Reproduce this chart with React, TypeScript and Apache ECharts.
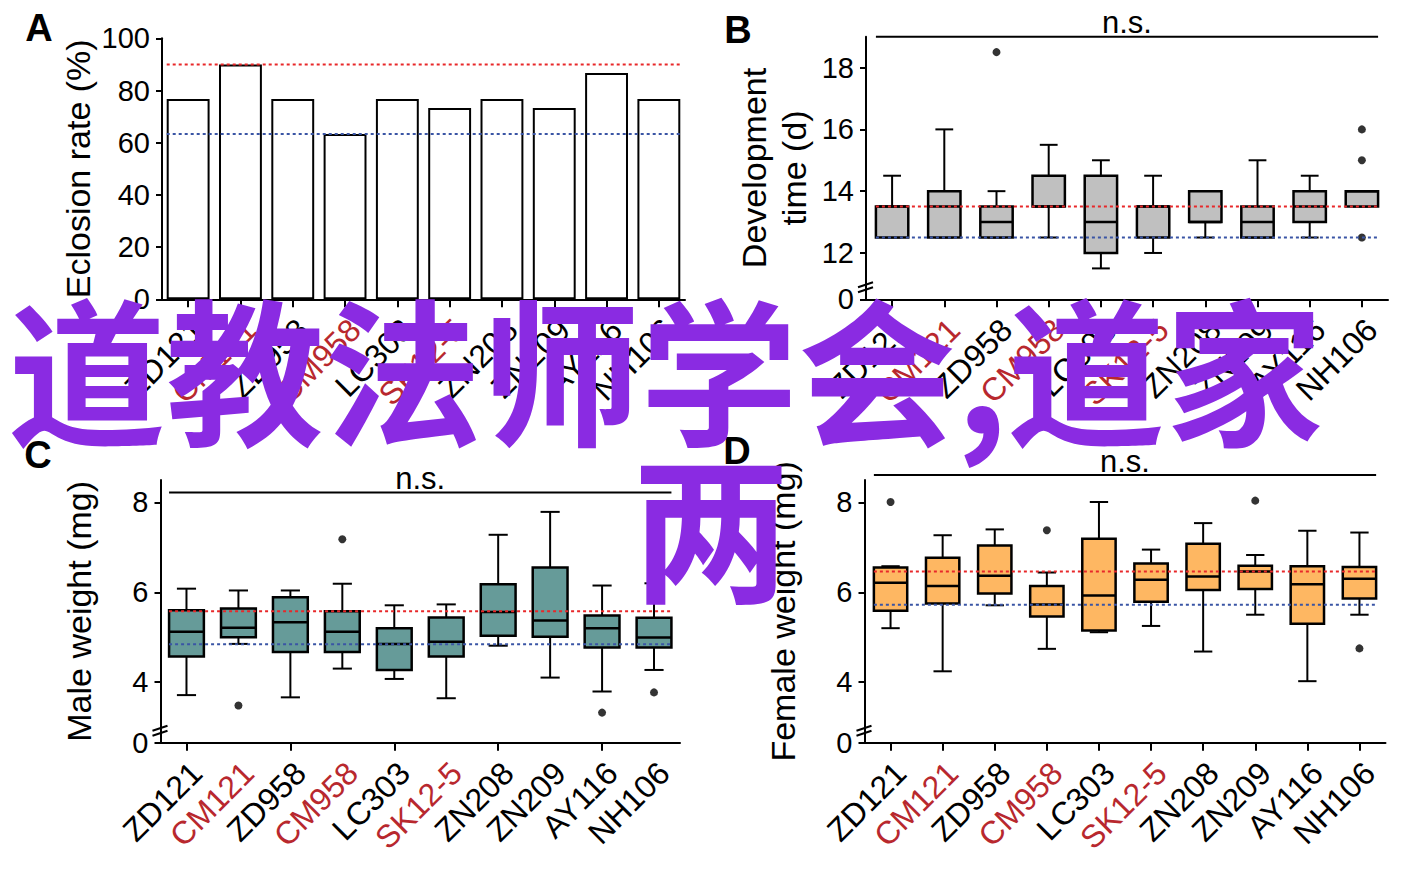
import React, { useEffect, useRef } from 'react';
import * as echarts from 'echarts';

// ---------- data ----------
const categories = ['ZD121', 'CM121', 'ZD958', 'CM958', 'LC303', 'SK12-5', 'ZN208', 'ZN209', 'AY116', 'NH106'];
const redCategories = ['CM121', 'CM958', 'SK12-5'];

// A: eclosion rate (%)
const eclosionRate = [76.7, 90, 76.7, 63.3, 76.7, 73.3, 76.7, 73.3, 86.7, 76.7];
const eclosionRefs = [90, 63.3];
const eclosionTickValues = [0, 20, 40, 60, 80, 100];
const eclosionTickLabels = ['0', '20', '40', '60', '80', '100'];

// B: development time (d) — [min, q1, median, q3, max]
const devStats = [
  [12.5, 12.5, 13.5, 13.5, 14.5],
  [12.5, 12.5, 13.5, 14, 16],
  [12.5, 12.5, 13, 13.5, 14],
  [12.5, 13.5, 13.5, 14.5, 15.5],
  [11.5, 12, 13, 14.5, 15],
  [12, 12.5, 13.5, 13.5, 14.5],
  [12.5, 13, 13, 14, 14],
  [12.5, 12.5, 13, 13.5, 15],
  [12.5, 13, 13.5, 14, 14.5],
  [13.5, 13.5, 14, 14, 14],
];
const devOutlierCats = ['ZD958', 'NH106', 'NH106', 'NH106'];
const devOutlierVals = [18.5, 16, 15, 12.5];
const devRefs = [13.5, 12.5];
const devNsLevel = 19;
const devTickValues = [10.5, 12, 14, 16, 18];
const devTickLabels = ['0', '12', '14', '16', '18'];

// C: male weight (mg)
const maleStats = [
  [3.71, 4.57, 5.12, 5.6, 6.08],
  [4.85, 5.0, 5.21, 5.64, 6.04],
  [3.66, 4.67, 5.33, 5.89, 6.04],
  [4.3, 4.67, 5.12, 5.58, 6.19],
  [4.07, 4.27, 4.85, 5.2, 5.71],
  [3.64, 4.57, 4.9, 5.44, 5.73],
  [4.81, 5.03, 5.56, 6.18, 7.28],
  [4.1, 5.01, 5.37, 6.55, 7.79],
  [3.79, 4.77, 5.2, 5.48, 6.15],
  [4.27, 4.77, 4.99, 5.43, 6.2],
];
const maleOutlierCats = ['CM121', 'CM958', 'AY116', 'NH106'];
const maleOutlierVals = [3.48, 7.18, 3.32, 3.77];
const maleRefs = [5.58, 4.84];
const maleNsLevel = 8.22;

// D: female weight (mg)
const femaleStats = [
  [5.2, 5.59, 6.21, 6.55, 6.58],
  [4.24, 5.75, 6.14, 6.77, 7.27],
  [5.71, 5.97, 6.37, 7.04, 7.4],
  [4.74, 5.46, 5.73, 6.14, 6.44],
  [5.11, 5.15, 5.93, 7.19, 8.01],
  [5.25, 5.79, 6.28, 6.64, 6.95],
  [4.68, 6.05, 6.35, 7.08, 7.54],
  [5.5, 6.07, 6.46, 6.59, 6.83],
  [4.02, 5.3, 6.18, 6.58, 7.37],
  [5.5, 5.86, 6.3, 6.56, 7.33],
];
const femaleOutlierCats = ['ZD121', 'CM958', 'ZN209', 'NH106'];
const femaleOutlierVals = [8.01, 7.38, 8.04, 4.75];
const femaleRefs = [6.46, 5.72];
const femaleNsLevel = 8.61;
const weightTickValues = [2.65, 4, 6, 8];
const weightTickLabels = ['0', '4', '6', '8'];

const watermarkLine1 = '道教法师学会,道家';
const watermarkLine2 = '两';

// ---------- styles ----------
const FONT = '"Liberation Sans", Arial, Helvetica, sans-serif';
const RED = '#e8282a';
const BLUE = '#3a55a5';
const LABEL_RED = '#b8282e';

function xAxisFor(gridIndex: number) {
  return {
    type: 'category',
    gridIndex,
    data: categories,
    boundaryGap: true,
    axisLine: { show: true, lineStyle: { color: '#000', width: 2 } },
    axisTick: { show: true, alignWithLabel: true, length: 8, lineStyle: { color: '#000', width: 2 } },
    axisLabel: { show: false },
    splitLine: { show: false },
  };
}

function yAxisFor(
  gridIndex: number,
  min: number,
  max: number,
  tickValues: number[],
  tickLabels: string[],
  name: string,
  nameGap: number,
  lineHeight = 40
) {
  return {
    type: 'value',
    gridIndex,
    min,
    max,
    name,
    nameLocation: 'middle',
    nameRotate: 90,
    nameGap,
    nameTextStyle: { fontSize: 34, fontFamily: FONT, color: '#000', lineHeight },
    axisLine: { show: true, lineStyle: { color: '#000', width: 2 } },
    axisTick: { show: true, length: 6, customValues: tickValues, lineStyle: { color: '#000', width: 2 } },
    axisLabel: {
      customValues: tickValues,
      fontSize: 29,
      fontFamily: FONT,
      color: '#000',
      margin: 12,
      formatter: (v: number) => {
        const i = tickValues.findIndex((t) => Math.abs(t - v) < 1e-6);
        return i >= 0 ? tickLabels[i] : '';
      },
    },
    splitLine: { show: false },
  };
}

// rotated category labels, anchored at each category's tick
function categoryLabelSeries(idx: number, axisMin: number) {
  return {
    type: 'custom',
    xAxisIndex: idx,
    yAxisIndex: idx,
    z: 7,
    silent: true,
    encode: { x: 0, y: 1 },
    data: categories.map((c, i) => [i, axisMin]),
    renderItem: (params: any, api: any) => {
      const p = api.coord([api.value(0), api.value(1)]);
      const name = categories[params.dataIndex];
      return {
        type: 'text',
        x: p[0] + 10,
        y: p[1] + 25,
        rotation: Math.PI / 4,
        style: {
          text: name,
          fontSize: 32,
          fontFamily: FONT,
          fill: redCategories.includes(name) ? LABEL_RED : '#000',
          align: 'right',
          verticalAlign: 'middle',
        },
      };
    },
  };
}

function boxSeries(idx: number, stats: number[][], fill: string, ratio: number) {
  return {
    type: 'custom',
    xAxisIndex: idx,
    yAxisIndex: idx,
    z: 3,
    encode: { x: 0, y: [1, 2, 3, 4, 5] },
    data: stats.map((s, i) => [i, ...s]),
    renderItem: (params: any, api: any) => {
      const i = api.value(0);
      const lo = api.coord([i, api.value(1)]);
      const q1 = api.coord([i, api.value(2)]);
      const md = api.coord([i, api.value(3)]);
      const q3 = api.coord([i, api.value(4)]);
      const hi = api.coord([i, api.value(5)]);
      const bw = api.size([1, 0])[0] * ratio;
      const cw = bw * 0.55;
      const x = lo[0];
      const ln = (x1: number, y1: number, x2: number, y2: number, w: number) => ({
        type: 'line',
        shape: { x1, y1, x2, y2 },
        style: { stroke: '#000', lineWidth: w },
      });
      return {
        type: 'group',
        children: [
          ln(x, hi[1], x, q3[1], 2),
          ln(x - cw / 2, hi[1], x + cw / 2, hi[1], 2),
          ln(x, q1[1], x, lo[1], 2),
          ln(x - cw / 2, lo[1], x + cw / 2, lo[1], 2),
          {
            type: 'rect',
            shape: { x: x - bw / 2, y: q3[1], width: bw, height: q1[1] - q3[1] },
            style: { fill, stroke: '#000', lineWidth: 2.5 },
          },
          ln(x - bw / 2, md[1], x + bw / 2, md[1], 2.5),
        ],
      };
    },
  };
}

function outlierSeries(idx: number, cats: string[], vals: number[]) {
  return {
    type: 'scatter',
    xAxisIndex: idx,
    yAxisIndex: idx,
    z: 4,
    symbol: 'circle',
    symbolSize: 8,
    itemStyle: { color: '#000' },
    data: cats.map((c, k) => [categories.indexOf(c), vals[k]]),
  };
}

function refLineSeries(idx: number, refs: number[], ratio: number) {
  const colors = [RED, BLUE];
  return {
    type: 'custom',
    xAxisIndex: idx,
    yAxisIndex: idx,
    z: 6,
    encode: { x: 0, y: 1 },
    data: refs.map((r, k) => [0, r, k]),
    renderItem: (params: any, api: any) => {
      const v = api.value(1);
      const a = api.coord([0, v]);
      const b = api.coord([categories.length - 1, v]);
      const half = (api.size([1, 0])[0] * ratio) / 2;
      return {
        type: 'line',
        shape: { x1: a[0] - half, y1: a[1], x2: b[0] + half, y2: a[1] },
        style: { stroke: colors[api.value(2)], lineWidth: 2, lineDash: [3, 3] },
      };
    },
  };
}

function annotationSeries(idx: number, nsLevel: number, axisMin: number, ratio: number) {
  return {
    type: 'custom',
    xAxisIndex: idx,
    yAxisIndex: idx,
    z: 6,
    encode: { x: 0, y: 1 },
    data: [[0, nsLevel, axisMin]],
    renderItem: (params: any, api: any) => {
      const v = api.value(1);
      const a = api.coord([0, v]);
      const b = api.coord([categories.length - 1, v]);
      const band = api.size([1, 0])[0];
      const half = (band * ratio) / 2;
      const bottom = api.coord([0, api.value(2)]);
      const ax = bottom[0] - band / 2;
      const by = bottom[1];
      return {
        type: 'group',
        children: [
          {
            type: 'line',
            shape: { x1: a[0] - half, y1: a[1], x2: b[0] + half, y2: a[1] },
            style: { stroke: '#000', lineWidth: 2 },
          },
          {
            type: 'text',
            x: (a[0] + b[0]) / 2,
            y: a[1] - 14,
            style: {
              text: 'n.s.',
              fontSize: 31,
              fontFamily: FONT,
              fill: '#000',
              align: 'center',
              verticalAlign: 'middle',
            },
          },
          {
            type: 'line',
            shape: { x1: ax - 8, y1: by - 12, x2: ax + 7, y2: by - 17 },
            style: { stroke: '#000', lineWidth: 2 },
          },
          {
            type: 'line',
            shape: { x1: ax - 8, y1: by - 7, x2: ax + 7, y2: by - 12 },
            style: { stroke: '#000', lineWidth: 2 },
          },
        ],
      };
    },
  };
}

function panelLetter(text: string, x: number, y: number) {
  return {
    type: 'text',
    x,
    y,
    z: 50,
    style: {
      text,
      fontSize: 38,
      fontWeight: 'bold',
      fontFamily: FONT,
      fill: '#000',
      align: 'center',
      verticalAlign: 'middle',
    },
  };
}

export default function App() {
  const ref = useRef<HTMLDivElement>(null);
  useEffect(() => {
    if (!ref.current) return;
    const chart = echarts.init(ref.current, null, { renderer: 'svg' });
    const option: any = {
      animation: false,
      backgroundColor: '#fff',
      grid: [
        { left: 162, top: 38.3, width: 523, height: 261 },
        { left: 866, top: 36.7, width: 522, height: 262.6 },
        { left: 160.5, top: 480, width: 519.5, height: 262.7 },
        { left: 864.5, top: 480, width: 521, height: 262.7 },
      ],
      xAxis: [xAxisFor(0), xAxisFor(1), xAxisFor(2), xAxisFor(3)],
      yAxis: [
        yAxisFor(0, 0, 100, eclosionTickValues, eclosionTickLabels, 'Eclosion rate (%)', 62),
        yAxisFor(1, 10.5, 19, devTickValues, devTickLabels, 'Development\ntime (d)', 52),
        yAxisFor(2, 2.65, 8.5, weightTickValues, weightTickLabels, 'Male weight (mg)', 62),
        yAxisFor(3, 2.65, 8.5, weightTickValues, weightTickLabels, 'Female weight (mg)', 62),
      ],
      series: [
        {
          type: 'bar',
          xAxisIndex: 0,
          yAxisIndex: 0,
          data: eclosionRate,
          barWidth: '82%',
          itemStyle: { color: '#fff', borderColor: '#000', borderWidth: 2 },
          z: 2,
        },
        refLineSeries(0, eclosionRefs, 0.82),
        categoryLabelSeries(0, 0),
        boxSeries(1, devStats, '#c0c0c0', 0.62),
        outlierSeries(1, devOutlierCats, devOutlierVals),
        refLineSeries(1, devRefs, 0.62),
        annotationSeries(1, devNsLevel, 10.5, 0.62),
        categoryLabelSeries(1, 10.5),
        boxSeries(2, maleStats, '#669b99', 0.67),
        outlierSeries(2, maleOutlierCats, maleOutlierVals),
        refLineSeries(2, maleRefs, 0.67),
        annotationSeries(2, maleNsLevel, 2.65, 0.67),
        categoryLabelSeries(2, 2.65),
        boxSeries(3, femaleStats, '#feb762', 0.64),
        outlierSeries(3, femaleOutlierCats, femaleOutlierVals),
        refLineSeries(3, femaleRefs, 0.64),
        annotationSeries(3, femaleNsLevel, 2.65, 0.64),
        categoryLabelSeries(3, 2.65),
      ],
      graphic: [
        panelLetter('A', 39, 28),
        panelLetter('B', 738, 30),
        panelLetter('C', 38, 455),
        panelLetter('D', 737, 451),
        {
          type: 'text',
          x: 8,
          y: 365,
          z: 100,
          style: {
            text: watermarkLine1,
            fontSize: 158,
            fontWeight: 'bold',
            fontFamily: '"Noto Sans CJK SC", sans-serif',
            fill: '#8a2be2',
            align: 'left',
            verticalAlign: 'middle',
          },
        },
        {
          type: 'text',
          x: 711,
          y: 521,
          z: 100,
          style: {
            text: watermarkLine2,
            fontSize: 158,
            fontWeight: 'bold',
            fontFamily: '"Noto Sans CJK SC", sans-serif',
            fill: '#8a2be2',
            align: 'center',
            verticalAlign: 'middle',
          },
        },
      ],
    };
    chart.setOption(option);
    return () => chart.dispose();
  }, []);
  return (
    <div
      ref={ref}
      style={{ position: 'absolute', left: 0, top: 0, width: 1418, height: 869, background: '#fff' }}
    />
  );
}
